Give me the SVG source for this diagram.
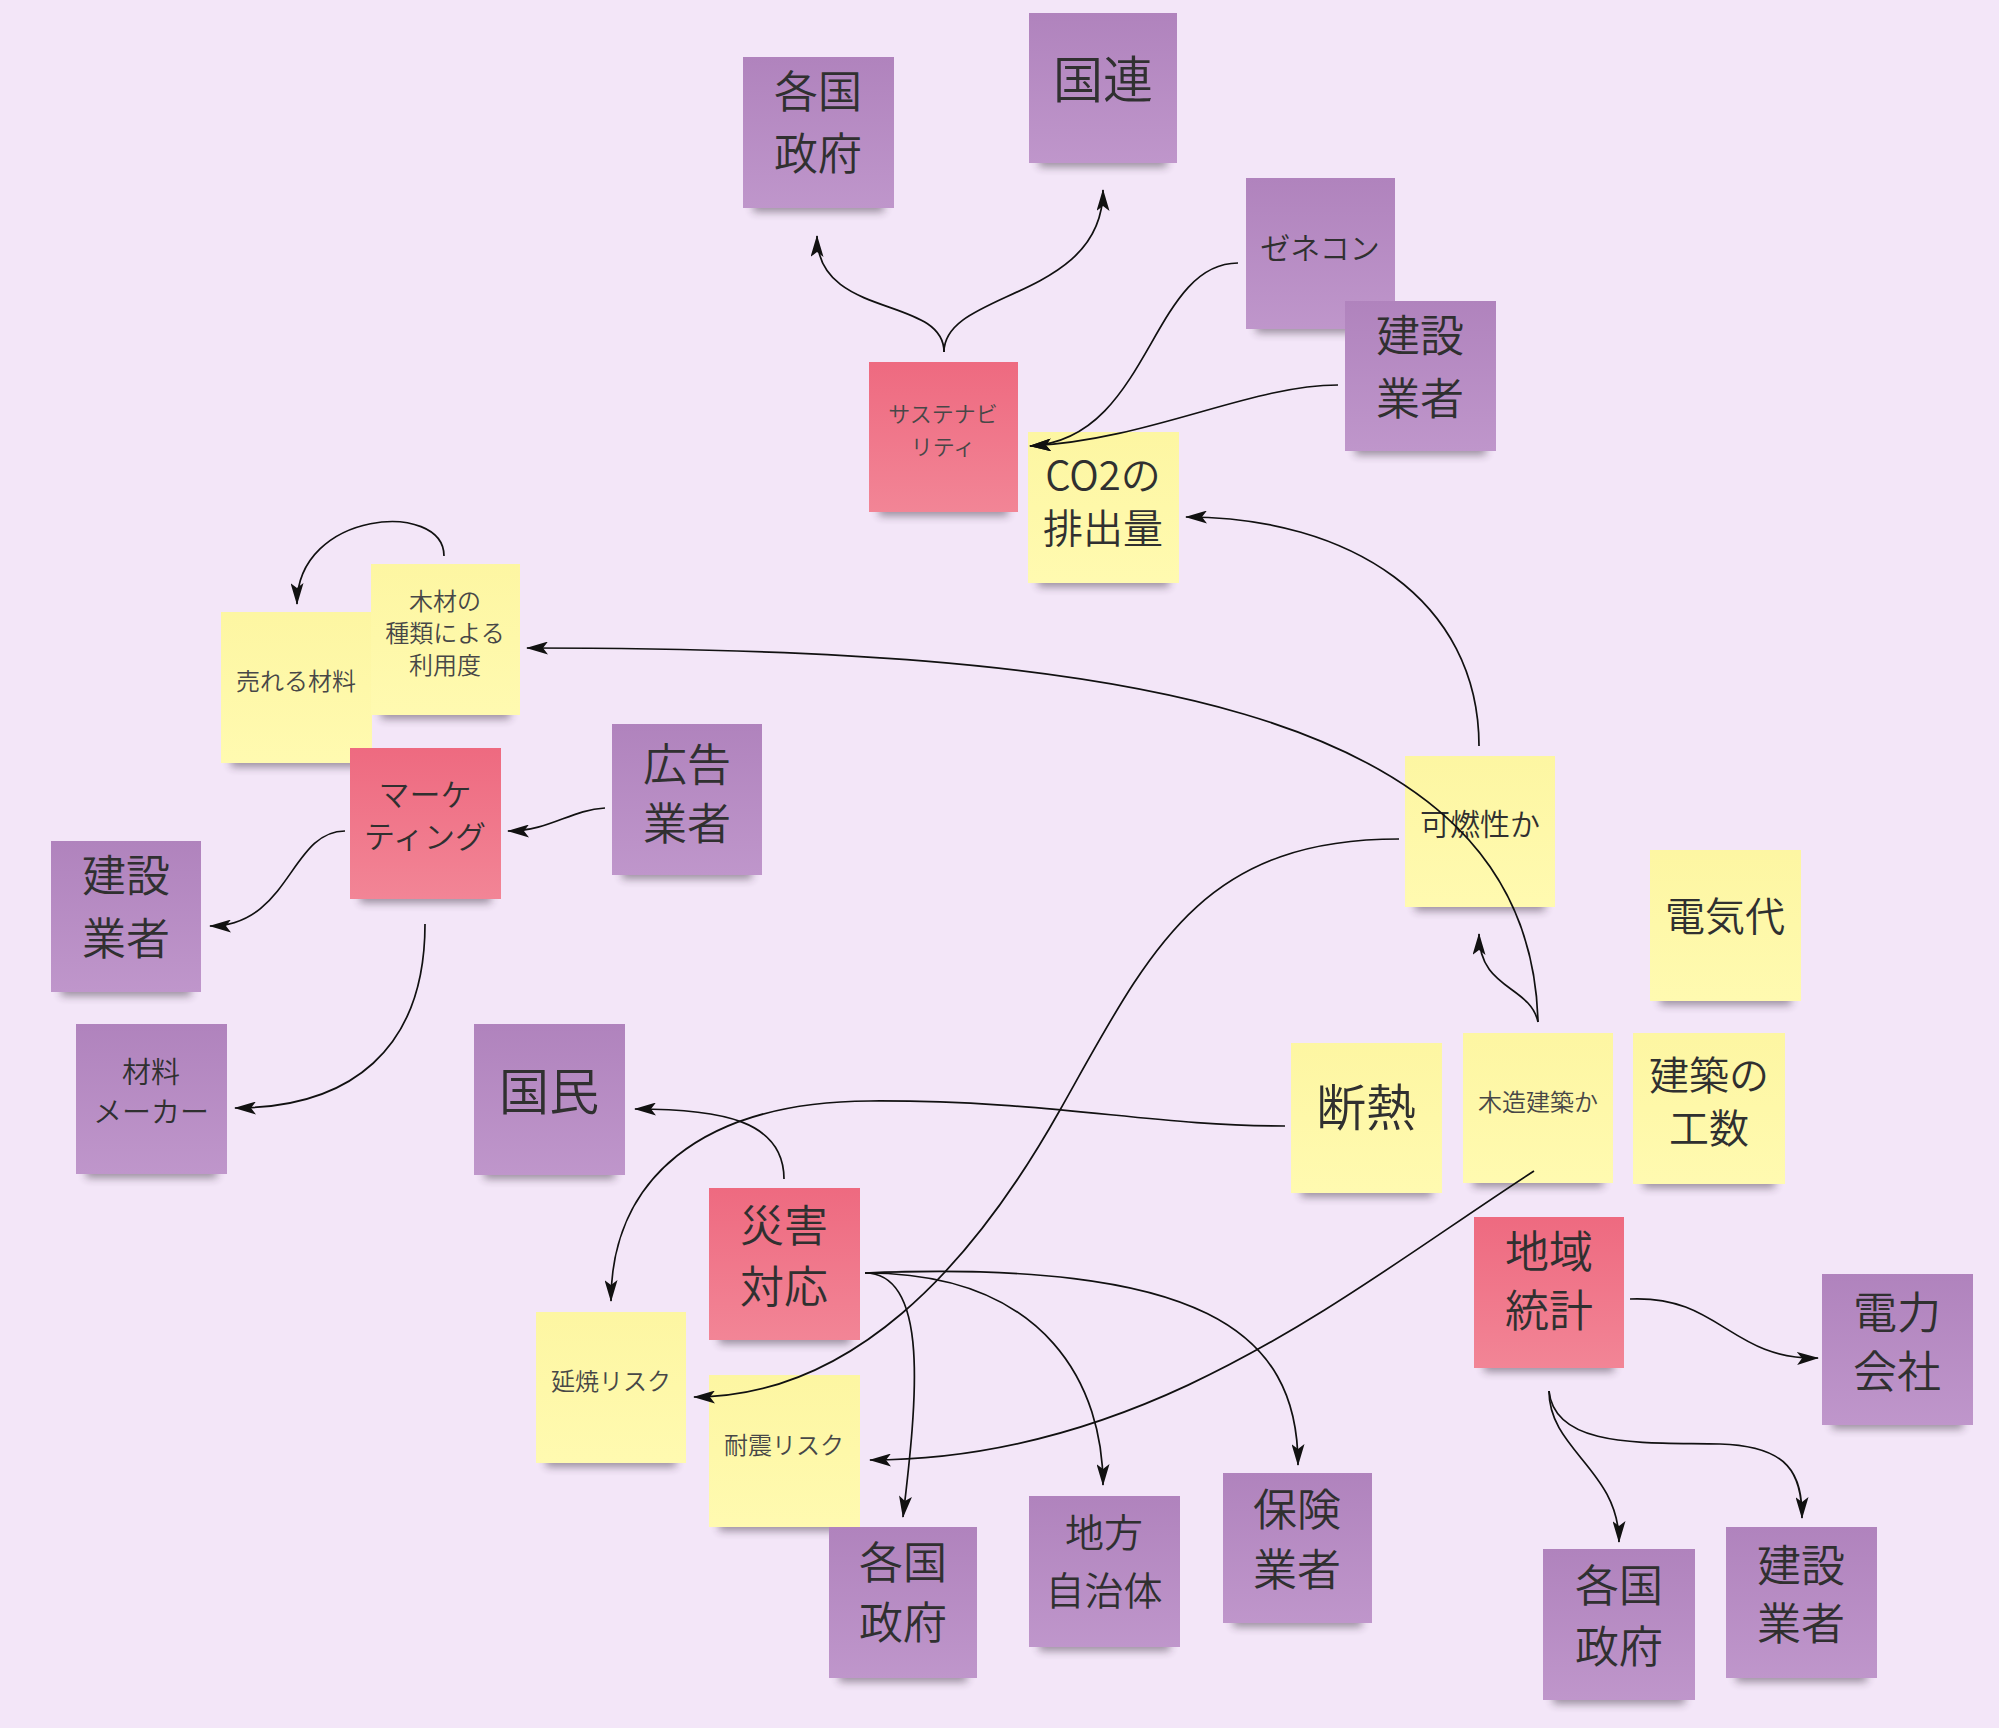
<svg xmlns="http://www.w3.org/2000/svg" width="1999" height="1728" viewBox="0 0 1999 1728">
<defs>
<linearGradient id="gP" x1="0" y1="0" x2="0" y2="1"><stop offset="0" stop-color="#b083bd"/><stop offset="1" stop-color="#bf96cb"/></linearGradient>
<linearGradient id="gR" x1="0" y1="0" x2="0" y2="1"><stop offset="0" stop-color="#ee6a80"/><stop offset="1" stop-color="#f28596"/></linearGradient>
<linearGradient id="gY" x1="0" y1="0" x2="0" y2="1"><stop offset="0" stop-color="#fdf6a2"/><stop offset="1" stop-color="#fffab0"/></linearGradient>
<filter id="blur" x="-20%" y="-100%" width="140%" height="300%"><feGaussianBlur stdDeviation="4"/></filter>
<marker id="ah" viewBox="0 0 22 13" refX="21" refY="6.5" markerWidth="22" markerHeight="13" markerUnits="userSpaceOnUse" orient="auto"><path d="M0,0 L22,6.5 L0,13 L5,6.5 Z" fill="#111"/></marker>
</defs>
<style>
.sh{fill:#2e2233;opacity:.45;filter:url(#blur)}
.p{fill:url(#gP)}
.r{fill:url(#gR)}
.y{fill:url(#gY)}
text{font-family:"Noto Sans CJK JP","Noto Sans",sans-serif;font-weight:350;fill:#303030;text-anchor:middle;dominant-baseline:central}
text.s{fill:#474747}
.e{fill:none;stroke:#111;stroke-width:1.7;marker-end:url(#ah)}
</style>
<rect width="1999" height="1728" fill="#f3e6f8"/>

<g id="n_kakkoku1"><rect class="sh" x="753" y="196" width="131" height="16"/><rect class="p" x="743" y="57" width="151" height="151"/><text x="818" y="89" font-size="44">各国</text><text x="818" y="151" font-size="44">政府</text></g>
<g id="n_kokuren"><rect class="sh" x="1039" y="151" width="128" height="16"/><rect class="p" x="1029" y="13" width="148" height="150"/><text x="1103" y="76" font-size="50">国連</text></g>
<g id="n_zenecon"><rect class="sh" x="1256" y="317" width="129" height="16"/><rect class="p" x="1246" y="178" width="149" height="151"/><text x="1320" y="246" font-size="30">ゼネコン</text></g>
<g id="n_kensetsu1"><rect class="sh" x="1355" y="439" width="131" height="16"/><rect class="p" x="1345" y="301" width="151" height="150"/><text x="1420" y="333" font-size="44">建設</text><text x="1420" y="396" font-size="44">業者</text></g>
<g id="n_sustain"><rect class="sh" x="879" y="500" width="129" height="16"/><rect class="r" x="869" y="362" width="149" height="150"/><text class="s" x="943" y="412" font-size="22">サステナビ</text><text class="s" x="943" y="445" font-size="22">リティ</text></g>
<g id="n_co2"><rect class="sh" x="1038" y="571" width="131" height="16"/><rect class="y" x="1028" y="432" width="151" height="151"/><text x="1103" y="473" font-size="40">CO2の</text><text x="1103" y="526" font-size="40">排出量</text></g>
<g id="n_ureru"><rect class="sh" x="231" y="751" width="131" height="16"/><rect class="y" x="221" y="612" width="151" height="151"/><text class="s" x="296" y="679" font-size="24">売れる材料</text></g>
<g id="n_mokuzai"><rect class="sh" x="381" y="703" width="129" height="16"/><rect class="y" x="371" y="564" width="149" height="151"/><text class="s" x="445" y="599" font-size="24">木材の</text><text class="s" x="445" y="631" font-size="24">種類による</text><text class="s" x="445" y="663" font-size="24">利用度</text></g>
<g id="n_marketing"><rect class="sh" x="360" y="887" width="131" height="16"/><rect class="r" x="350" y="748" width="151" height="151"/><text x="425" y="792" font-size="31">マーケ</text><text x="425" y="834" font-size="31">ティング</text></g>
<g id="n_koukoku"><rect class="sh" x="622" y="863" width="130" height="16"/><rect class="p" x="612" y="724" width="150" height="151"/><text x="687" y="762" font-size="44">広告</text><text x="687" y="821" font-size="44">業者</text></g>
<g id="n_kensetsu2"><rect class="sh" x="61" y="980" width="130" height="16"/><rect class="p" x="51" y="841" width="150" height="151"/><text x="126" y="873" font-size="44">建設</text><text x="126" y="936" font-size="44">業者</text></g>
<g id="n_zairyo"><rect class="sh" x="86" y="1162" width="131" height="16"/><rect class="p" x="76" y="1024" width="151" height="150"/><text x="151" y="1070" font-size="29">材料</text><text x="151" y="1110" font-size="29">メーカー</text></g>
<g id="n_kokumin"><rect class="sh" x="484" y="1163" width="131" height="16"/><rect class="p" x="474" y="1024" width="151" height="151"/><text x="549" y="1088" font-size="50">国民</text></g>
<g id="n_kanen"><rect class="sh" x="1415" y="895" width="130" height="16"/><rect class="y" x="1405" y="756" width="150" height="151"/><text x="1480" y="822" font-size="30">可燃性か</text></g>
<g id="n_denki"><rect class="sh" x="1660" y="989" width="131" height="16"/><rect class="y" x="1650" y="850" width="151" height="151"/><text x="1725" y="914" font-size="40">電気代</text></g>
<g id="n_dannetsu"><rect class="sh" x="1301" y="1181" width="131" height="16"/><rect class="y" x="1291" y="1043" width="151" height="150"/><text x="1366" y="1104" font-size="50">断熱</text></g>
<g id="n_mokuzou"><rect class="sh" x="1473" y="1171" width="130" height="16"/><rect class="y" x="1463" y="1033" width="150" height="150"/><text class="s" x="1538" y="1100" font-size="24">木造建築か</text></g>
<g id="n_kousu"><rect class="sh" x="1643" y="1172" width="132" height="16"/><rect class="y" x="1633" y="1033" width="152" height="151"/><text x="1709" y="1073" font-size="40">建築の</text><text x="1709" y="1126" font-size="40">工数</text></g>
<g id="n_saigai"><rect class="sh" x="719" y="1328" width="131" height="16"/><rect class="r" x="709" y="1188" width="151" height="152"/><text x="784" y="1223" font-size="44">災害</text><text x="784" y="1284" font-size="44">対応</text></g>
<g id="n_chiiki"><rect class="sh" x="1484" y="1356" width="130" height="16"/><rect class="r" x="1474" y="1217" width="150" height="151"/><text x="1549" y="1249" font-size="44">地域</text><text x="1549" y="1308" font-size="44">統計</text></g>
<g id="n_denryoku"><rect class="sh" x="1832" y="1413" width="131" height="16"/><rect class="p" x="1822" y="1274" width="151" height="151"/><text x="1897" y="1310" font-size="44">電力</text><text x="1897" y="1369" font-size="44">会社</text></g>
<g id="n_enshou"><rect class="sh" x="546" y="1451" width="130" height="16"/><rect class="y" x="536" y="1312" width="150" height="151"/><text class="s" x="611" y="1379" font-size="24">延焼リスク</text></g>
<g id="n_taishin"><rect class="sh" x="719" y="1515" width="131" height="16"/><rect class="y" x="709" y="1375" width="151" height="152"/><text class="s" x="784" y="1443" font-size="24">耐震リスク</text></g>
<g id="n_kakkoku2"><rect class="sh" x="839" y="1666" width="128" height="16"/><rect class="p" x="829" y="1527" width="148" height="151"/><text x="903" y="1560" font-size="44">各国</text><text x="903" y="1620" font-size="44">政府</text></g>
<g id="n_chihou"><rect class="sh" x="1039" y="1635" width="131" height="16"/><rect class="p" x="1029" y="1496" width="151" height="151"/><text x="1104" y="1530" font-size="39">地方</text><text x="1104" y="1588" font-size="39">自治体</text></g>
<g id="n_hoken"><rect class="sh" x="1233" y="1611" width="129" height="16"/><rect class="p" x="1223" y="1473" width="149" height="150"/><text x="1297" y="1507" font-size="44">保険</text><text x="1297" y="1567" font-size="44">業者</text></g>
<g id="n_kakkoku3"><rect class="sh" x="1553" y="1688" width="132" height="16"/><rect class="p" x="1543" y="1549" width="152" height="151"/><text x="1619" y="1583" font-size="44">各国</text><text x="1619" y="1644" font-size="44">政府</text></g>
<g id="n_kensetsu3"><rect class="sh" x="1736" y="1666" width="131" height="16"/><rect class="p" x="1726" y="1527" width="151" height="151"/><text x="1801" y="1563" font-size="44">建設</text><text x="1801" y="1621" font-size="44">業者</text></g>

<g id="connectors">
<path class="e" d="M 944 352 C 944 295, 817 320, 817 236"/>
<path class="e" d="M 944 352 C 944 290, 1103 300, 1103 190"/>
<path class="e" d="M 1238 263 C 1150 263, 1150 440, 1030 446"/>
<path class="e" d="M 1338 385 C 1250 385, 1150 440, 1030 446"/>
<path class="e" d="M 1479 746 C 1479 600, 1350 517, 1186 517"/>
<path class="e" d="M 1538 1022 C 1530 700, 1100 648, 527 648"/>
<path class="e" d="M 1538 1022 C 1530 985, 1479 990, 1479 934"/>
<path class="e" d="M 1399 839 C 1200 839, 1150 950, 1060 1110 S 850 1397, 694 1397"/>
<path class="e" d="M 1285 1126 C 1150 1126, 1050 1100, 870 1101 C 700 1102, 611 1180, 611 1301"/>
<path class="e" d="M 784 1179 C 784 1120, 720 1109, 635 1109"/>
<path class="e" d="M 865 1273 C 930 1273, 917 1400, 903 1517"/>
<path class="e" d="M 865 1273 C 1050 1273, 1103 1390, 1103 1485"/>
<path class="e" d="M 865 1273 C 1200 1260, 1298 1330, 1298 1465"/>
<path class="e" d="M 1534 1171 C 1350 1290, 1150 1460, 870 1460"/>
<path class="e" d="M 1630 1299 C 1720 1295, 1730 1360, 1818 1358"/>
<path class="e" d="M 1549 1391 C 1549 1450, 1619 1470, 1619 1542"/>
<path class="e" d="M 1549 1391 C 1555 1450, 1650 1442, 1720 1444 C 1790 1446, 1802 1475, 1802 1518"/>
<path class="e" d="M 345 831 C 290 831, 290 926, 210 926"/>
<path class="e" d="M 425 924 C 425 1050, 350 1108, 235 1108"/>
<path class="e" d="M 605 808 C 570 810, 550 831, 508 831"/>
<path class="e" d="M 444 556 C 444 500, 297 510, 297 604"/>
</g>
</svg>
